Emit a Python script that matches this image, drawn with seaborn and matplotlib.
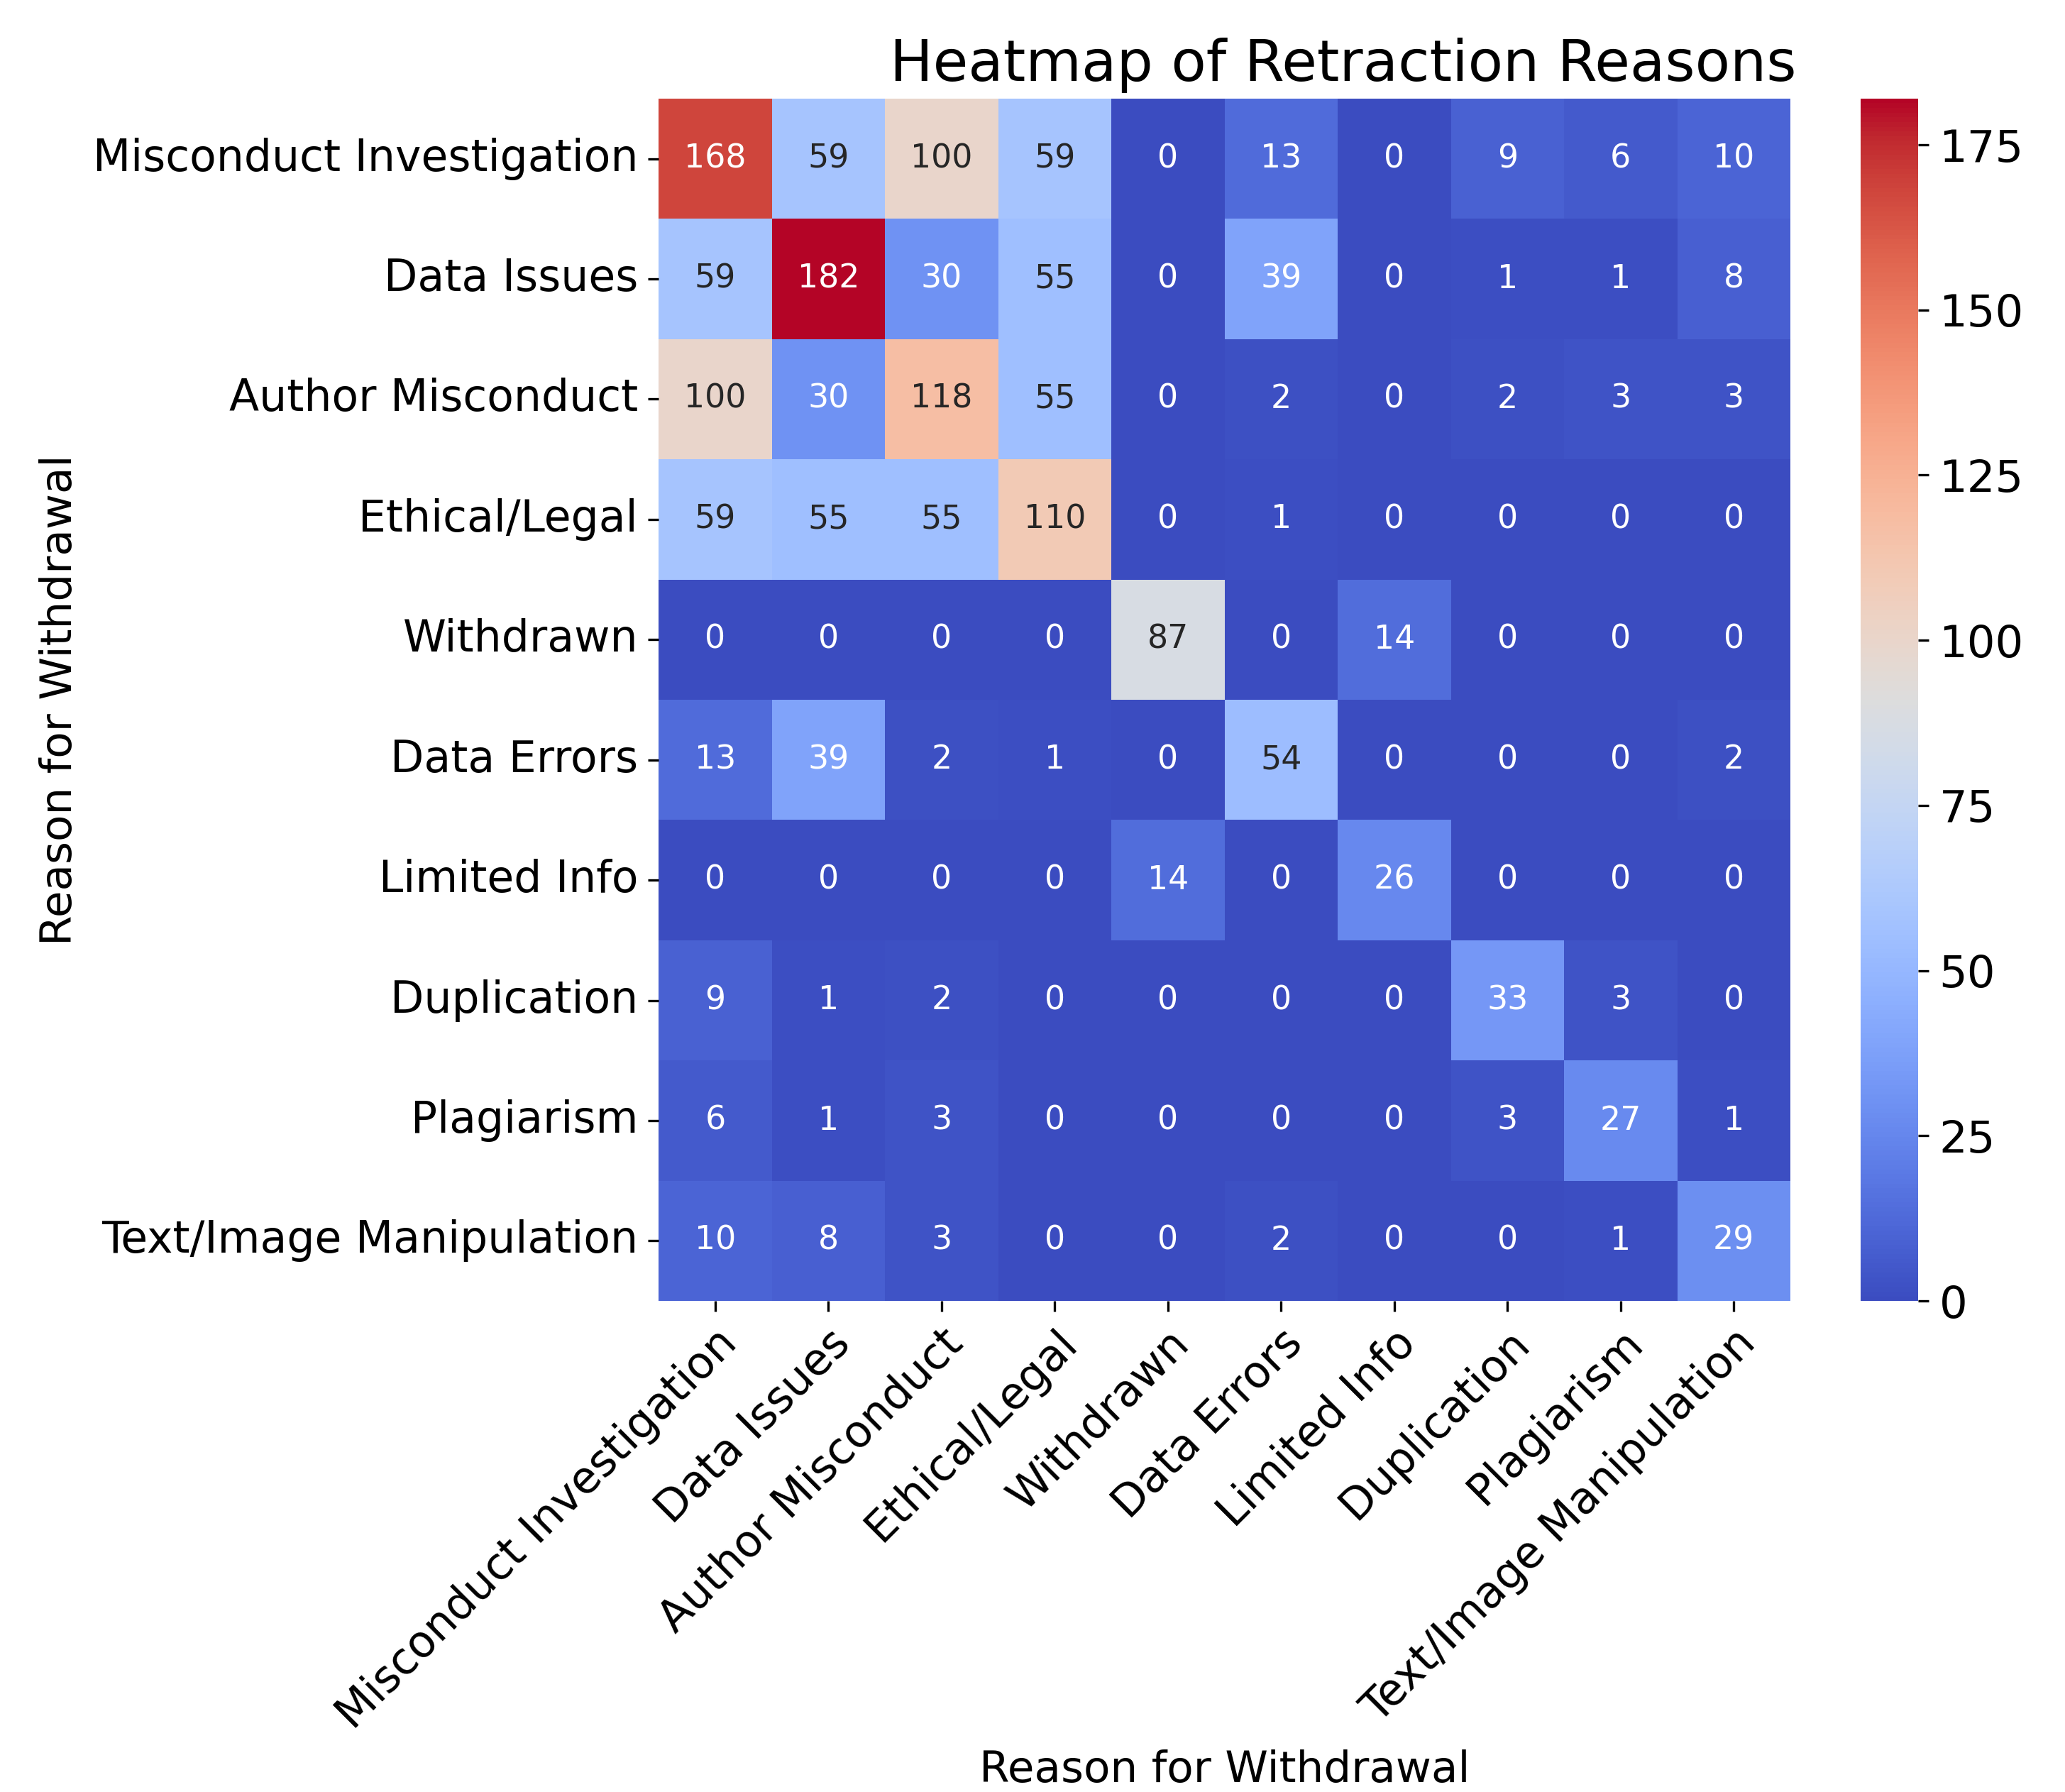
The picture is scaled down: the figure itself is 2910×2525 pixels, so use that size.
import numpy as np
import pandas as pd
import seaborn as sns
import matplotlib
matplotlib.use("Agg")
import matplotlib.pyplot as plt

# categories
reasons = [
    "Misconduct Investigation",
    "Data Issues",
    "Author Misconduct",
    "Ethical/Legal",
    "Withdrawn",
    "Data Errors",
    "Limited Info",
    "Duplication",
    "Plagiarism",
    "Text/Image Manipulation",
]

# co-occurrence counts, one list per row
misconduct_inv = [168, 59, 100, 59, 0, 13, 0, 9, 6, 10]
data_issues = [59, 182, 30, 55, 0, 39, 0, 1, 1, 8]
author_misc = [100, 30, 118, 55, 0, 2, 0, 2, 3, 3]
ethical_legal = [59, 55, 55, 110, 0, 1, 0, 0, 0, 0]
withdrawn = [0, 0, 0, 0, 87, 0, 14, 0, 0, 0]
data_errors = [13, 39, 2, 1, 0, 54, 0, 0, 0, 2]
limited_info = [0, 0, 0, 0, 14, 0, 26, 0, 0, 0]
duplication = [9, 1, 2, 0, 0, 0, 0, 33, 3, 0]
plagiarism = [6, 1, 3, 0, 0, 0, 0, 3, 27, 1]
text_image = [10, 8, 3, 0, 0, 2, 0, 0, 1, 29]

rows = [misconduct_inv, data_issues, author_misc, ethical_legal, withdrawn,
        data_errors, limited_info, duplication, plagiarism, text_image]
df = pd.DataFrame(rows, index=reasons, columns=reasons)

fig = plt.figure(figsize=(9.7, 8.4167), dpi=300)
ax = fig.add_axes([0.319, 0.274, 0.548, 0.671])
cax = fig.add_axes([0.901, 0.274, 0.028, 0.671])

sns.heatmap(df, annot=True, fmt="d", cmap="coolwarm", ax=ax, cbar_ax=cax,
            annot_kws={"size": 11})

ax.set_title("Heatmap of Retraction Reasons", fontsize=19.4, x=0.605)
ax.set_xlabel("Reason for Withdrawal", fontsize=14.7)
ax.set_ylabel("Reason for Withdrawal", fontsize=14.7)
ax.tick_params(labelsize=14.8)
plt.setp(ax.get_xticklabels(), rotation=45, ha="right", rotation_mode="anchor")
plt.setp(ax.get_yticklabels(), rotation=0)
cax.tick_params(labelsize=15)

fig.savefig("out.png", dpi=300)
